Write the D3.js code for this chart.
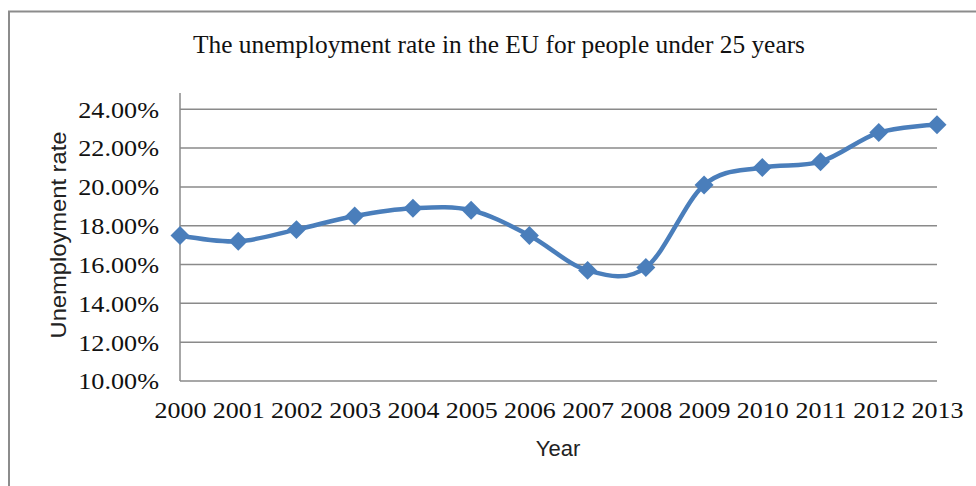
<!DOCTYPE html>
<html>
<head>
<meta charset="utf-8">
<script src="https://cdnjs.cloudflare.com/ajax/libs/d3/7.8.5/d3.min.js"></script>
<style>
	body { margin: 0; background: #fff; }
</style>
</head>
<body>
<div id="chart"></div>
<script>
const years = ["2000","2001","2002","2003","2004","2005","2006","2007","2008","2009","2010","2011","2012","2013"];
const rates = [17.5, 17.2, 17.8, 18.5, 18.9, 18.8, 17.5, 15.7, 15.85, 20.1, 21.0, 21.3, 22.8, 23.2];
const yTicks = [10, 12, 14, 16, 18, 20, 22, 24];

var W = 976, H = 486;
var plotLeft = 180, plotRight = 937, plotTop = 109.3, plotBottom = 381;

var svg = d3.select("#chart")
	.append("svg")
	.attr("width", W)
	.attr("height", H);

// outer frame (only top and left edges visible)
svg.append("path")
	.attr("d", "M9," + H + "V11.5H" + W)
	.attr("fill", "none")
	.attr("stroke", "#8c8c8c")
	.attr("stroke-width", 2);

var x = d3.scalePoint().domain(years).range([plotLeft, plotRight]);
var y = d3.scaleLinear().domain([10, 24]).range([plotBottom, plotTop]);

// gridlines
svg.append("g")
	.selectAll("line")
	.data(yTicks)
	.enter()
	.append("line")
	.attr("x1", plotLeft)
	.attr("x2", plotRight)
	.attr("y1", function (d) { return y(d); })
	.attr("y2", function (d) { return y(d); })
	.attr("stroke", "#8a8a8a")
	.attr("stroke-width", 1.5);

// left axis line
svg.append("line")
	.attr("x1", plotLeft).attr("x2", plotLeft)
	.attr("y1", 93).attr("y2", plotBottom)
	.attr("stroke", "#8a8a8a")
	.attr("stroke-width", 1.5);

// Y axis
var yAxis = svg.append("g")
	.attr("transform", "translate(" + plotLeft + ",0)")
	.call(d3.axisLeft(y).tickValues(yTicks).tickSize(0)
		.tickFormat(function (d) { return d3.format(".2f")(d) + "%"; }));
yAxis.select(".domain").remove();
yAxis.selectAll("text")
	.attr("x", 0)
	.attr("dy", "0.34em")
	.attr("transform", "translate(-21,0) scale(1.14,1)")
	.style("font-family", "'Liberation Serif', serif")
	.style("font-size", "23px")
	.attr("fill", "#111");

// X axis
var xAxis = svg.append("g")
	.attr("transform", "translate(0," + plotBottom + ")")
	.call(d3.axisBottom(x).tickSize(0));
xAxis.select(".domain").remove();
xAxis.selectAll("text")
	.attr("y", 0)
	.attr("dy", 0)
	.attr("transform", "translate(0,37) scale(1.13,1)")
	.style("font-family", "'Liberation Serif', serif")
	.style("font-size", "23px")
	.attr("fill", "#111");

// title
svg.append("text")
	.attr("x", 499)
	.attr("y", 53)
	.attr("text-anchor", "middle")
	.attr("textLength", 612)
	.attr("lengthAdjust", "spacingAndGlyphs")
	.style("font-family", "'Liberation Serif', serif")
	.style("font-size", "26px")
	.attr("fill", "#111")
	.text("The unemployment rate in the EU for people under 25 years");

// axis titles
svg.append("text")
	.attr("x", 558)
	.attr("y", 456)
	.attr("text-anchor", "middle")
	.style("font-family", "'Liberation Sans', sans-serif")
	.style("font-size", "22px")
	.attr("fill", "#222")
	.text("Year");

svg.append("text")
	.attr("transform", "translate(66,235) rotate(-90)")
	.attr("text-anchor", "middle")
	.attr("textLength", 207)
	.attr("lengthAdjust", "spacingAndGlyphs")
	.style("font-family", "'Liberation Sans', sans-serif")
	.style("font-size", "22px")
	.attr("fill", "#222")
	.text("Unemployment rate");

// smoothed line
var line = d3.line()
	.x(function (d, i) { return x(years[i]); })
	.y(function (d) { return y(d); })
	.curve(d3.curveCatmullRom.alpha(0));

svg.append("path")
	.datum(rates)
	.attr("d", line)
	.attr("fill", "none")
	.attr("stroke", "#4a7ebb")
	.attr("stroke-width", 4.5);

// diamond markers
svg.append("g")
	.selectAll("path")
	.data(rates)
	.enter()
	.append("path")
	.attr("d", d3.symbol(d3.symbolSquare, 180))
	.attr("transform", function (d, i) {
		return "translate(" + x(years[i]) + "," + y(d) + ") rotate(45)";
	})
	.attr("fill", "#4a7ebb");
</script>
</body>
</html>
